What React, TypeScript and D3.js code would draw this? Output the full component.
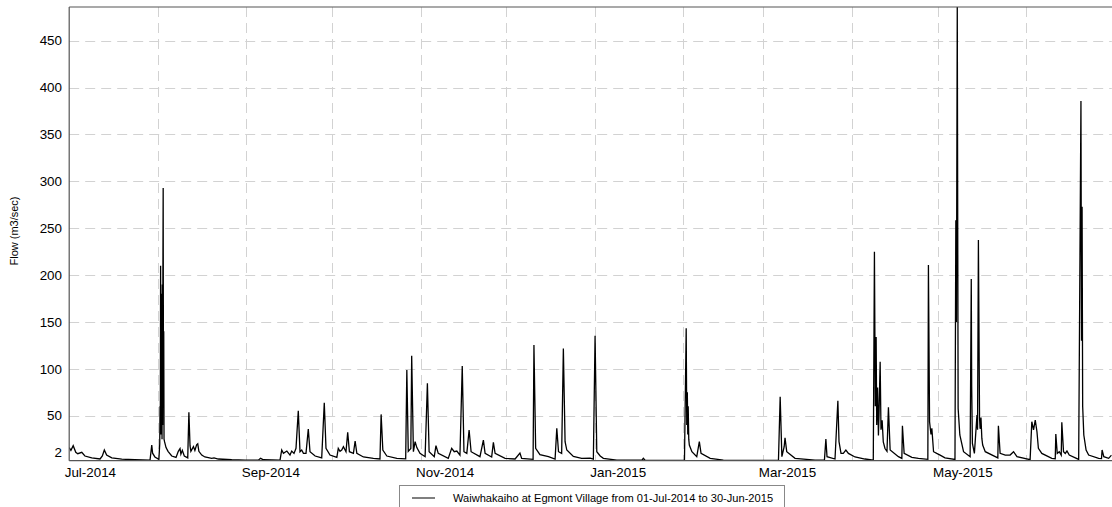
import React from "react";
import * as d3 from "d3";

// Flow readings: [days since 01-Jul-2014, flow m3/sec]
const flowJulSep2014: [number, number][] = [
  [0, 16], [0.6, 13], [1.4, 18], [2.3, 11], [3.0, 9.5], [4.4, 11], [5.5, 7], [7.9, 5], [10.8, 3.8], [11.6, 7],
  [12.3, 13.4], [13.1, 8], [14.9, 5], [18.4, 3.6], [23.0, 3.0], [28.3, 2.6], [28.9, 18.7], [29.2, 10], [30.0, 6],
  [31.4, 3.5], [31.7, 20], [31.8, 60], [31.9, 30], [32.0, 210], [32.1, 50], [32.2, 180], [32.3, 30], [32.4, 160],
  [32.5, 25], [32.6, 190], [32.7, 40], [32.8, 200], [32.9, 293], [33.0, 60], [33.1, 140], [33.2, 25],
  [33.4, 22], [33.9, 16], [34.6, 12], [35.9, 7], [37.4, 5.5],
  [38.2, 12], [38.8, 15], [39.1, 9], [39.6, 13], [40.3, 7], [41.5, 5], [41.9, 53.6], [42.3, 18], [42.6, 12],
  [43.5, 17], [44.0, 13], [44.6, 19], [45.0, 20], [45.4, 12], [46.4, 8], [47.5, 6], [49.9, 4.5], [50.7, 5],
  [52.2, 3.8], [56.9, 3], [61.6, 2.7], [66.2, 2.6], [67.0, 4.5], [68.0, 3], [73.8, 2.5], [74.4, 13.4], [75.0, 9.8],
  [76.2, 12.3], [77.3, 8], [77.9, 12.3], [78.7, 9.8], [79.4, 15.2], [80.2, 55.3], [80.8, 11.6], [81.4, 13.4],
  [82.0, 9.8], [82.9, 9.8], [83.7, 35.8], [84.3, 11.6], [86.1, 7], [88.4, 5], [89.3, 63.9], [89.9, 15.2], [91.3, 8],
];

const flowOctDec2014: [number, number][] = [
  [93.7, 5.6], [94.2, 15.2], [94.8, 12], [95.4, 13.4], [96.0, 16.9], [96.9, 11.6], [97.5, 32.2], [98.1, 11.6],
  [99.5, 9.8], [100.1, 23], [100.7, 9.8], [103.0, 6], [106.5, 4.5], [108.8, 3.8], [109.2, 51.4], [109.8, 13.4],
  [111.2, 7], [114.7, 4.5], [117.8, 4], [118.2, 98.7], [118.7, 12], [119.6, 15], [119.9, 114], [120.5, 11.6],
  [121.1, 22.3], [121.7, 16], [122.8, 10], [124.6, 6.3], [125.4, 84.5], [126.0, 11.6], [127.8, 6.3], [128.4, 18],
  [129.2, 9.8], [132.7, 4.5], [133.9, 15.2], [134.8, 11.6], [135.7, 12.3], [136.8, 8], [137.6, 103], [138.2, 11.6],
  [139.2, 9.8], [140.0, 34.7], [140.7, 11.6], [143.8, 6.3], [145.0, 24], [145.6, 9.8], [147.9, 6], [148.5, 21.6],
  [149.1, 9.8], [152.6, 4.5], [156.1, 3.8], [157.8, 10.2], [158.4, 4.5], [162.4, 3.4], [162.7, 125.4],
  [163.3, 15.2], [164.8, 8.5], [167.8, 6.3], [170.1, 3.8], [170.7, 36.5], [171.3, 11.6], [172.4, 9.8],
  [173.0, 121.8], [173.6, 22.3], [174.2, 13.4], [176.5, 6.5], [179.4, 4.5], [182.4, 4.8], [183.5, 3.6],
];

const flowJanMar2015: [number, number][] = [
  [184.1, 135.3], [184.7, 11.6], [185.9, 7], [187.0, 4.5], [191.7, 2.7], [200.5, 2.5], [201.0, 4.5], [201.6, 2.5],
  [215.4, 2.2], [216.0, 143.2], [216.2, 40], [216.4, 75], [216.55, 30], [216.7, 60], [216.9, 25], [217.1, 18.7],
  [218.0, 11.6], [219.7, 6.3], [220.6, 22.3], [221.2, 9.8], [224.4, 4.5], [229.0, 2.7], [240, 2.3], [248.3, 2.3],
  [248.9, 70.3], [249.5, 6.3], [250.3, 16.9], [250.6, 26.5], [251.2, 11.6], [254.1, 4.5], [261.1, 2.7],
  [264.4, 2.6], [264.9, 25.1], [265.3, 6.3], [268.1, 3.8], [269.1, 66], [269.5, 22.3], [270.2, 9.8], [271.0, 9.8],
  [271.9, 13.4], [272.8, 9.8],
];

const flowAprJun2015: [number, number][] = [
  [275.1, 6], [278.6, 3.8], [281.5, 2.7], [281.9, 225], [282.2, 60], [282.5, 134], [282.7, 40], [283.0, 80],
  [283.3, 29], [283.5, 50], [283.9, 107.6], [284.2, 35], [284.6, 45], [285.0, 22], [285.6, 15], [286.3, 12],
  [286.8, 58.9], [287.4, 13.4], [290.3, 6.3], [291.5, 4.5], [291.7, 39.3], [292.3, 9.8], [295.0, 5.5],
  [297.3, 4.5], [300.6, 3.4], [300.8, 210.7], [301.2, 43.6], [301.7, 30], [302.0, 36.5], [302.6, 11.6],
  [303.7, 9.8], [304.9, 8], [306.6, 5], [310.1, 3.4], [310.4, 258.5], [310.6, 150], [310.9, 490], [311.2, 57.8],
  [311.8, 29.4], [313.1, 11.6], [315.4, 6.3], [315.8, 195.8], [315.95, 81], [316.2, 20.5], [316.9, 9.8],
  [317.8, 50.7], [318.0, 35], [318.3, 237.4], [318.7, 47.2], [318.9, 36], [319.2, 48], [319.5, 26], [319.8, 18.7],
  [320.7, 11.6], [324.2, 6.3], [325.1, 5], [325.3, 39.3], [325.9, 9.8], [327.7, 8], [329.4, 8], [330.6, 11.6],
  [331.8, 6.3], [336.4, 3.2], [337.0, 43.6], [337.6, 35], [338.2, 45.4], [338.8, 32.9], [339.3, 15.2],
  [340.5, 9.8], [344.0, 4.5], [345.2, 4], [345.4, 30.4], [345.9, 9.8], [346.6, 11.6], [347.3, 8], [347.5, 43],
  [348.1, 11.6], [348.7, 9.8], [349.3, 12.3], [350.1, 8], [353.4, 3.4], [354.2, 385.7], [354.4, 130],
  [354.6, 273], [354.8, 60], [355.2, 29.4], [356.0, 13.4], [356.9, 8], [360.4, 4.5], [361.4, 4.2], [361.6, 13.4],
  [362.2, 6.3], [363.9, 4.5], [364.9, 8],
];

const yTicks = [2, 50, 100, 150, 200, 250, 300, 350, 400, 450];
const yTitle = "Flow (m3/sec)";
const legendLabel = "Waiwhakaiho at Egmont Village from 01-Jul-2014 to 30-Jun-2015";

const W = 1112;
const H = 507;
const L = 69.2;
const R = 1111.8;
const T = 7;
const B = 460.7;
const FONT = "'Liberation Sans', Arial, sans-serif";

export default function App() {
  const start = new Date(2014, 6, 1);
  const end = new Date(2015, 6, 1);
  const x = d3.scaleTime().domain([start, end]).range([L, R]);
  const y = d3.scaleLinear().domain([2, 486]).range([B, T]);

  const all = [...flowJulSep2014, ...flowOctDec2014, ...flowJanMar2015, ...flowAprJun2015];
  const toDate = (d: number) => new Date(start.getTime() + d * 864e5);
  const line = d3
    .line<[number, number]>()
    .x((d) => x(toDate(d[0])))
    .y((d) => y(d[1]));

  const gridMonths = d3.timeMonth.range(new Date(2014, 7, 1), end);
  const labelMonths = d3.timeMonth.every(2)!.range(start, end);
  const fmt = d3.timeFormat("%b-%Y");

  return (
    <svg width={W} height={H} style={{ position: "absolute", left: 0, top: 0, background: "#fff" }}>
      <defs>
        <clipPath id="plotclip">
          <rect x={L} y={T} width={R - L} height={B - T} />
        </clipPath>
      </defs>
      <rect x={0} y={0} width={W} height={H} fill="#fff" />
      {/* grid */}
      <g stroke="#d2d2d2" strokeWidth={1} strokeDasharray="10,6">
        {yTicks
          .filter((t) => t !== 2)
          .map((t) => (
            <line key={"h" + t} x1={L} x2={R} y1={Math.round(y(t)) + 0.5} y2={Math.round(y(t)) + 0.5} />
          ))}
        {gridMonths.map((m) => (
          <line key={"v" + m.getTime()} x1={Math.round(x(m)) + 0.5} x2={Math.round(x(m)) + 0.5} y1={T} y2={B} />
        ))}
      </g>
      {/* series */}
      <path d={line(all) || ""} fill="none" stroke="#000" strokeWidth={1.3} clipPath="url(#plotclip)" />
      {/* frame */}
      <g stroke="#555" strokeWidth={1.2} fill="none">
        <line x1={L} x2={L} y1={T} y2={B} />
        <line x1={L} x2={W} y1={T} y2={T} />
        <line x1={L} x2={W} y1={B} y2={B} />
      </g>
      {/* y tick labels */}
      <g fontFamily={FONT} fontSize={13.4} fill="#000" textAnchor="end">
        {yTicks.map((t) => (
          <text key={"yl" + t} x={62} y={t === 2 ? y(t) - 8 : y(t)} dy="0.35em">
            {t}
          </text>
        ))}
      </g>
      {/* x tick labels */}
      <g fontFamily={FONT} fontSize={13.4} fill="#000">
        {labelMonths.map((m) => (
          <text key={"xl" + m.getTime()} x={x(m) - 4.5} y={477}>
            {fmt(m)}
          </text>
        ))}
      </g>
      {/* y title */}
      <text
        transform={`translate(18,231) rotate(-90)`}
        textAnchor="middle"
        fontFamily={FONT}
        fontSize={11}
        fill="#000"
      >
        {yTitle}
      </text>
      {/* legend */}
      <rect x={399.5} y={485.5} width={385} height={30} fill="#fff" stroke="#888" strokeWidth={1} />
      <line x1={412} x2={435} y1={498} y2={498} stroke="#555" strokeWidth={1.5} />
      <text x={453} y={501.5} fontFamily={FONT} fontSize={11.1} fill="#000">
        {legendLabel}
      </text>
    </svg>
  );
}
